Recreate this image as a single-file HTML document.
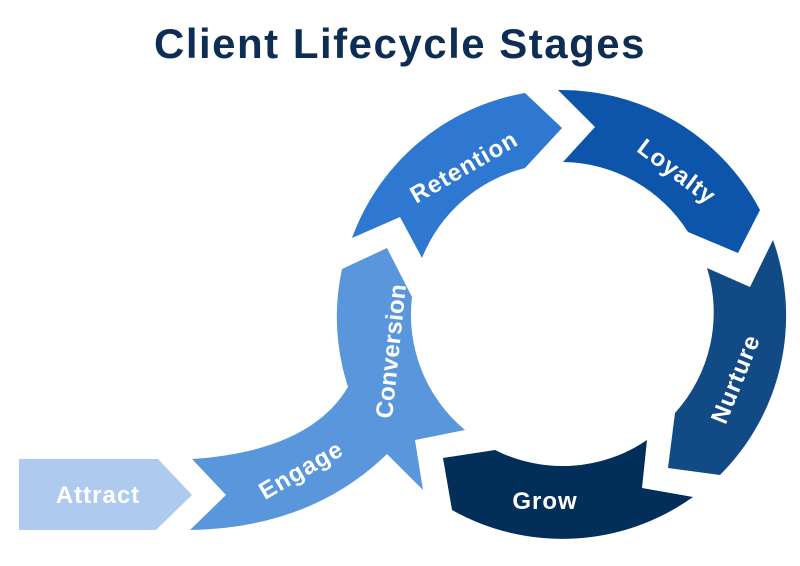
<!DOCTYPE html>
<html><head><meta charset="utf-8"><style>
html,body{margin:0;padding:0;background:#fff;}
svg{display:block;}
text{font-family:"Liberation Sans",sans-serif;font-weight:bold;}
</style></head><body>
<svg width="800" height="566" viewBox="0 0 800 566" xmlns="http://www.w3.org/2000/svg">
<text x="400" y="58" text-anchor="middle" font-size="42" letter-spacing="1.5" fill="#0d2d55">Client Lifecycle Stages</text>

<path d="M19,459 L158,459 L192,495 L156,530 L19,530 Z" fill="#aecbef"/>
<path d="M192,459 L226,495 L190,530 Q311,528 387,454 L423,490 L415,440 L465,430 A150 150 0 0 1 412,297 L387,248 L342,269 A225 225 0 0 0 348,387 Q310,451 192,459 Z" fill="#5a96dc"/>
<path d="M352,238 L400,217 L422,258 A150 150 0 0 1 525,168 L562,128 L525,93 A225 225 0 0 0 352,238 Z" fill="#2e78d2"/>
<path d="M558,90 L595,127 L563,162 A150 150 0 0 1 688,232 L738,253 L760,210 A225 225 0 0 0 558,90 Z" fill="#0d55ab"/>
<path d="M773,240 L750,287 L707,268 A150 150 0 0 1 675,413 L668,468 L720,475 A225 225 0 0 0 773,240 Z" fill="#114a85"/>
<path d="M693,497 L642,488 L647,440 A150 150 0 0 1 495,450 L443,458 L452,510 A225 225 0 0 0 693,497 Z" fill="#022e5a"/>

<g fill="#fff" font-size="24" letter-spacing="1" text-anchor="middle">
<text x="98" y="503">Attract</text>
<text transform="translate(305,477) rotate(-30)">Engage</text>
<text transform="translate(399,352) rotate(-84)" letter-spacing="0.3">Conversion</text>
<text transform="translate(468,174) rotate(-30)">Retention</text>
<text transform="translate(672,178) rotate(37)">Loyalty</text>
<text transform="translate(743,382) rotate(-68)">Nurture</text>
<text x="545" y="509">Grow</text>
</g>
</svg>
</body></html>
